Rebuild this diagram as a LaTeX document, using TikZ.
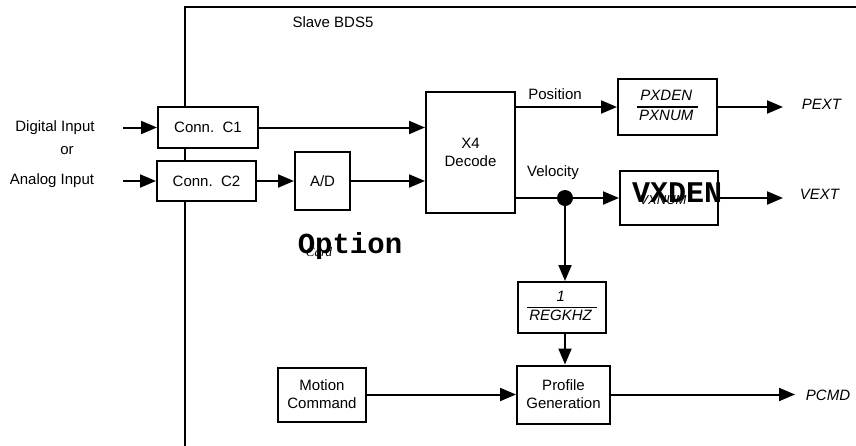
\documentclass[tikz,border=0pt]{standalone}
\usepackage{fontspec}
\setmainfont{Liberation Sans}
\newfontfamily\monobold{Liberation Mono}
\newfontfamily\serifsmall{Liberation Serif}
\usetikzlibrary{arrows.meta}
\setlength{\arrayrulewidth}{1.4pt}
\newcommand{\ratio}[2]{{\renewcommand{\arraystretch}{1.0}\begin{tabular}{@{\,}c@{\,\,}}\textit{#1}\\\hline\textit{#2}\end{tabular}}}

\begin{document}
\begin{tikzpicture}[x=1pt,y=-1pt]
\tikzstyle{every node} = [font=\fontsize{15}{18}\selectfont]
\tikzstyle{block} = [draw,line width=2pt,fill=white,align=center,inner sep=2pt]
\tikzstyle{wire} = [line width=2pt]
\tikzstyle{sig} = [line width=2pt,-{Triangle[length=16pt,width=13pt]}]
\useasboundingbox (0,0) rectangle (856,445);

% outer frame of the slave drive
\draw[wire] (185,446) -- (185,7) -- (857,7);

\path (208,127.5) node[block,minimum width=100pt,minimum height=41pt] (c1) {Conn.\ \ C1}
		(206.5,181) node[block,minimum width=99pt,minimum height=40pt] (c2) {Conn.\ \ C2}
		(322.5,181) node[block,minimum width=55pt,minimum height=58pt] (ad) {A/D}
		(470.5,152.5) node[block,minimum width=89pt,minimum height=121pt] (x4) {X4\\Decode}
		(667.5,107) node[block,minimum width=99pt,minimum height=56pt] (pxbox) {\ratio{PXDEN}{PXNUM}}
		(669,198) node[block,minimum width=98pt,minimum height=54pt] (vxbox) {}
		(562,307.5) node[block,minimum width=88pt,minimum height=51pt] (regk) {\ratio{1}{REGKHZ}}
		(563.5,394.5) node[block,minimum width=93pt,minimum height=58pt] (prof) {Profile\\Generation}
		(322,394.5) node[block,minimum width=88pt,minimum height=54pt] (motion) {Motion\\Command}
		(565,198) node[circle,fill,inner sep=0pt,minimum size=16pt] (vdot) {};

\path (55,127.5) node (digital) {Digital Input}
		(67,151) node (or) {or}
		(52,181) node (analog) {Analog Input}
		(333,22) node (slave) {Slave BDS5}
		(555,94) node (position) {Position}
		(553,173) node (velocity) {Velocity}
		(822,104) node (pext) {\textit{PEXT}}
		(820,194) node (vext) {\textit{VEXT}}
		(828,395) node (pcmd) {\textit{PCMD}}
		(663,200) node (vxnum) {\fontsize{13}{13}\selectfont\textit{VXNUM}}
		(677,193) node (vxden) {\monobold\fontsize{30}{30}\selectfont\bfseries VXDEN}
		(350,246) node (option) {\monobold\fontsize{29}{29}\selectfont\bfseries Option}
		(319,252) node (card) {\serifsmall\fontsize{13}{13}\selectfont\itshape Card};

\coordinate (din) at (123,127.5);
\coordinate (ain) at (123,181);
\coordinate (pextend) at (783,107);
\coordinate (vextend) at (783,198);
\coordinate (pcmdend) at (795,394.5);

	\draw[sig] (din) -- (node cs:name=c1);
	\draw[sig] (ain) -- (node cs:name=c2);
	\draw[sig] (node cs:name=c2) -- (node cs:name=ad);
	\draw[sig] (c1.east) -- (c1.east -| x4.west);
	\draw[sig] (ad.east) -- (ad.east -| x4.west);
	\draw[sig] (x4.east |- pxbox.west) -- (pxbox.west);
	\draw[wire] (x4.east |- vdot) -- (node cs:name=vdot);
	\draw[sig] (node cs:name=vdot) -- (node cs:name=vxbox);
	\draw[sig] (node cs:name=vdot) -- (vdot |- regk.north);
	\draw[sig] (vdot |- regk.south) -- (vdot |- prof.north);
	\draw[sig] (node cs:name=motion) -- (node cs:name=prof);
	\draw[sig] (node cs:name=pxbox) -- (pextend);
	\draw[sig] (node cs:name=vxbox) -- (vextend);
	\draw[sig] (node cs:name=prof) -- (pcmdend);
\end{tikzpicture}
\end{document}
